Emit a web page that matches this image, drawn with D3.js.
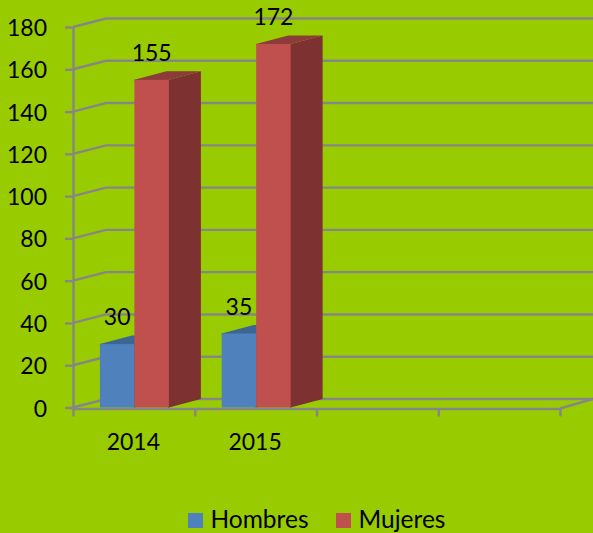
<!DOCTYPE html>
<html><head><meta charset="utf-8">
<script src="https://cdnjs.cloudflare.com/ajax/libs/d3/7.8.5/d3.min.js"></script>
<style>html,body{margin:0;padding:0;background:#99cc00}svg{display:block}text{font-family:Lato,"Open Sans",sans-serif;fill:#000}</style>
</head><body><svg id="c" width="593" height="533"></svg>
<script>
const categories = ["2014", "2015"];
const slots = ["2014", "2015", "slot3", "slot4"];
const seriesNames = ["Hombres", "Mujeres"];
const hombres = [30, 35];
const mujeres = [155, 172];
const yTicks = [0, 20, 40, 60, 80, 100, 120, 140, 160, 180];
const colors = {Hombres: {front: "#4f81bd", top: "#3d6594", side: "#3a5f8c"},
                Mujeres: {front: "#c0504d", top: "#8b3b39", side: "#7d3131"}};

const W = 593, H = 533, dx = 33, dy = -8.5, grid = "#868686", lw = 2.4;
const svg = d3.select("#c");
svg.append("rect").attr("width", W).attr("height", H).attr("fill", "#99cc00");
const y = d3.scaleLinear().domain([0, 180]).range([407.5, 27]);
const x = d3.scaleBand().domain(slots).range([73, 560]);
const sx = d3.scaleBand().domain(seriesNames).range([0, x.bandwidth()]).paddingInner(0).paddingOuter(0.765).align(0.51);
const line = d3.line();

// back wall gridlines
svg.append("g").selectAll("path").data(yTicks).join("path")
  .attr("fill", "none").attr("stroke", grid).attr("stroke-width", lw)
  .attr("d", t => line([[73, y(t)], [73 + dx, y(t) + dy], [W, y(t) + dy]]));

// floor right edge
svg.append("path").attr("fill", "none").attr("stroke", grid).attr("stroke-width", lw)
  .attr("d", line([[560, y(0) + 1], [560 + dx, y(0) + dy]]));

// left axis
const ga = svg.append("g").attr("transform", "translate(73,0)")
  .call(d3.axisLeft(y).tickValues(yTicks).tickSize(8).tickSizeOuter(0).tickPadding(18));
ga.selectAll("path,line").attr("stroke", grid).attr("stroke-width", lw);
ga.selectAll("text").attr("font-size", 23).attr("dy", "0.37em");

// bottom axis
const gb = svg.append("g").attr("transform", "translate(0,408.5)")
  .call(d3.axisBottom(d3.scaleLinear().domain([0, 4]).range([73, 560])).ticks(4).tickSize(8).tickSizeOuter(0).tickFormat(""));
gb.selectAll("path,line").attr("stroke", grid).attr("stroke-width", lw);

// bars (side and top overlap under the front face to avoid seams)
const bw = sx.bandwidth(), bdx = 32, bdy = -8.5;
function bar(g, name, cat, v) {
  const x0 = x(cat) + sx(name), x1 = x0 + bw, yt = y(v), yb = y(0), c = colors[name];
  g.append("path").attr("fill", c.side)
    .attr("d", line([[x1 - 1, yt], [x1, yt], [x1 + bdx, yt + bdy], [x1 + bdx, yb + bdy], [x1, yb], [x1 - 1, yb]]) + "Z");
  g.append("path").attr("fill", c.top)
    .attr("d", line([[x0, yt + 1], [x0, yt], [x0 + bdx, yt + bdy], [x1 + bdx, yt + bdy], [x1, yt], [x1, yt + 1]]) + "Z");
  g.append("rect").attr("x", x0).attr("y", yt).attr("width", bw).attr("height", yb - yt).attr("fill", c.front);
}
const gBars = svg.append("g");
categories.forEach((cat, i) => {
  bar(gBars, "Hombres", cat, hombres[i]);
  bar(gBars, "Mujeres", cat, mujeres[i]);
});

// data labels
const labels = svg.append("g").attr("font-size", 23).attr("text-anchor", "middle");
categories.forEach((cat, i) => {
  [["Hombres", hombres[i]], ["Mujeres", mujeres[i]]].forEach(([n, v]) => {
    labels.append("text").attr("x", x(cat) + sx(n) + bw / 2).attr("y", y(v) - 19).text(v);
  });
});

// category labels
svg.append("g").attr("font-size", 23).attr("text-anchor", "middle")
  .selectAll("text").data(categories).join("text")
  .attr("x", d => x(d) + x.bandwidth() / 2 - 0.5).attr("y", 450).text(d => d);

// legend
const lx = d3.scaleOrdinal().domain(seriesNames).range([188, 336]);
const leg = svg.append("g").selectAll("g").data(seriesNames).join("g")
  .attr("transform", d => `translate(${lx(d)},513)`);
leg.append("rect").attr("width", 15).attr("height", 15).attr("fill", d => colors[d].front);
leg.append("text").attr("x", 22.5).attr("y", 15).attr("font-size", 24.5).text(d => d);
</script></body></html>
